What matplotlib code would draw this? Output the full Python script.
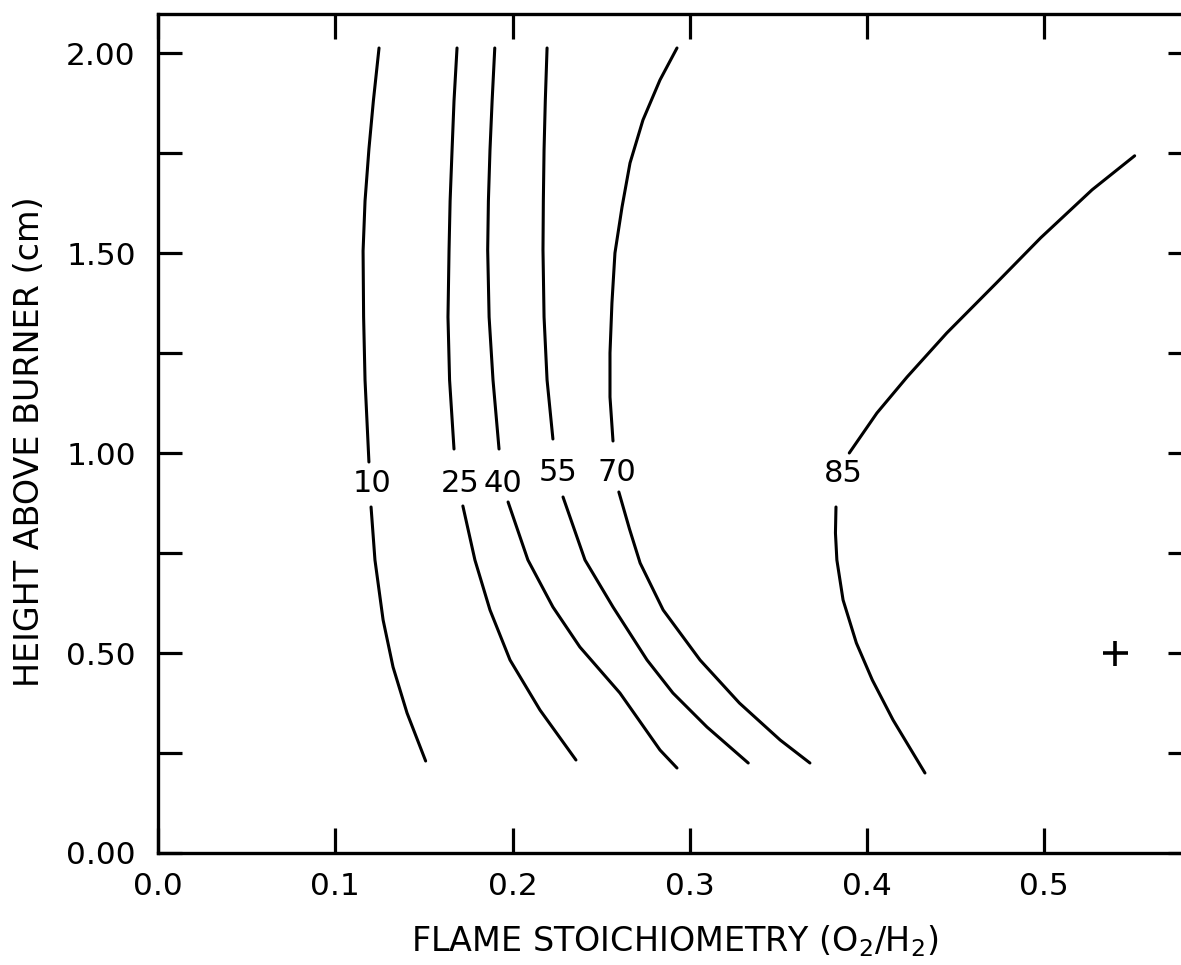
import matplotlib
matplotlib.use("Agg")
import matplotlib.pyplot as plt
from matplotlib.ticker import MultipleLocator

# ---- data ----
levels = [10, 25, 40, 55, 70, 85]
label_x = [0.1207, 0.1704, 0.1946, 0.2257, 0.2590, 0.3865]
label_y = [0.925, 0.925, 0.925, 0.9525, 0.9525, 0.950]

c10_up_x = [0.1247, 0.1215, 0.1190, 0.1168, 0.1157, 0.1160, 0.1168, 0.1190]
c10_up_y = [2.0125, 1.880, 1.760, 1.630, 1.505, 1.340, 1.1825, 0.9775]
c10_lo_x = [0.1202, 0.1224, 0.1270, 0.1326, 0.1405, 0.1510]
c10_lo_y = [0.865, 0.7325, 0.5825, 0.465, 0.350, 0.230]

c25_up_x = [0.1687, 0.1670, 0.1659, 0.1648, 0.1642, 0.1636, 0.1645, 0.1670]
c25_up_y = [2.0125, 1.880, 1.7575, 1.630, 1.5075, 1.340, 1.1825, 1.010]
c25_lo_x = [0.1720, 0.1788, 0.1873, 0.1986, 0.2155, 0.2358]
c25_lo_y = [0.8675, 0.7325, 0.6075, 0.4825, 0.3575, 0.2325]

c40_up_x = [0.1900, 0.1885, 0.1873, 0.1864, 0.1860, 0.1868, 0.1890, 0.1924]
c40_up_y = [2.0125, 1.880, 1.7575, 1.630, 1.5075, 1.340, 1.1825, 1.010]
c40_lo_x = [0.1975, 0.2087, 0.2228, 0.2380, 0.2606, 0.2832, 0.2928]
c40_lo_y = [0.8775, 0.7325, 0.615, 0.515, 0.400, 0.2575, 0.2125]

c55_up_x = [0.2195, 0.2185, 0.2178, 0.2174, 0.2172, 0.2178, 0.2195, 0.2228]
c55_up_y = [2.0125, 1.880, 1.7575, 1.630, 1.5075, 1.340, 1.1825, 1.035]
c55_lo_x = [0.2285, 0.2409, 0.2567, 0.2759, 0.2905, 0.3097, 0.3330]
c55_lo_y = [0.890, 0.7325, 0.615, 0.4825, 0.400, 0.315, 0.225]

c70_up_x = [0.2928, 0.2832, 0.2736, 0.2663, 0.2618, 0.2578, 0.2561, 0.2550, 0.2550, 0.2567]
c70_up_y = [2.0125, 1.9325, 1.8325, 1.725, 1.615, 1.500, 1.375, 1.250, 1.140, 1.030]
c70_lo_x = [0.2600, 0.2660, 0.2720, 0.2850, 0.3058, 0.3280, 0.3510, 0.3678]
c70_lo_y = [0.9025, 0.810, 0.725, 0.6075, 0.4825, 0.375, 0.2825, 0.225]

c85_up_x = [0.5510, 0.5270, 0.4980, 0.4730, 0.4450, 0.4226, 0.4056, 0.3900]
c85_up_y = [1.743, 1.658, 1.538, 1.425, 1.300, 1.190, 1.100, 1.000]
c85_lo_x = [0.3825, 0.3822, 0.3830, 0.3865, 0.3940, 0.4030, 0.4147, 0.4327]
c85_lo_y = [0.865, 0.800, 0.7325, 0.6325, 0.525, 0.4325, 0.3325, 0.200]

plus_x = [0.540]
plus_y = [0.500]

x_ticks = [0.0, 0.1, 0.2, 0.3, 0.4, 0.5]
x_ticklabels = ["0.0", "0.1", "0.2", "0.3", "0.4", "0.5"]
y_ticks = [0.0, 0.5, 1.0, 1.5, 2.0]
y_ticklabels = ["0.00", "0.50", "1.00", "1.50", "2.00"]

# ---- figure ----
plt.rcParams['font.family'] = ['DejaVu Sans']
fig = plt.figure(figsize=(11.81, 9.65), dpi=100)
ax = fig.add_axes([158 / 1181, 1 - 853 / 965, (1192 - 158) / 1181, (853 - 14) / 965])

lw = 2.2
segments = [
    (c10_up_x, c10_up_y), (c10_lo_x, c10_lo_y),
    (c25_up_x, c25_up_y), (c25_lo_x, c25_lo_y),
    (c40_up_x, c40_up_y), (c40_lo_x, c40_lo_y),
    (c55_up_x, c55_up_y), (c55_lo_x, c55_lo_y),
    (c70_up_x, c70_up_y), (c70_lo_x, c70_lo_y),
    (c85_up_x, c85_up_y), (c85_lo_x, c85_lo_y),
]
for sx, sy in segments:
    ax.plot(sx, sy, color='black', lw=lw, solid_capstyle='round', solid_joinstyle='round')

for lv, lx, ly in zip(levels, label_x, label_y):
    ax.text(lx, ly, str(lv), fontsize=22, ha='center', va='center', color='black')

ax.plot(plus_x, plus_y, marker='+', color='black', markersize=18, mew=2.6, linestyle='none')

ax.set_xlim(0, (1192 - 158) / 1772.5)
ax.set_ylim(0, (853 - 14) / 400)

ax.set_xticks(x_ticks)
ax.set_xticklabels(x_ticklabels)
ax.set_yticks(y_ticks)
ax.set_yticklabels(y_ticklabels)
ax.yaxis.set_minor_locator(MultipleLocator(0.25))

ax.tick_params(axis='both', which='both', direction='in', top=True, right=True,
               width=2.3, labelsize=22.5, color='black')
ax.tick_params(axis='x', which='major', length=18, pad=14)
ax.tick_params(axis='y', which='both', length=17, pad=16)

for sp in ax.spines.values():
    sp.set_linewidth(2.4)

ax.set_xlabel("FLAME STOICHIOMETRY (O$_\\mathregular{2}$/H$_\\mathregular{2}$)", fontsize=24, labelpad=16)
ax.set_ylabel("HEIGHT ABOVE BURNER (cm)", fontsize=24, labelpad=8)
ax.yaxis.set_label_coords(-0.108, 0.49)

fig.savefig("out.png", dpi=100)
